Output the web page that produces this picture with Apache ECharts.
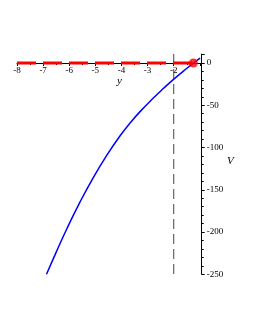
<!DOCTYPE html>
<html>
<head>
<meta charset="utf-8">
<script src="https://cdn.jsdelivr.net/npm/echarts@6/dist/echarts.min.js"></script>
<style>html,body{margin:0;padding:0;background:#fff}#c{width:256px;height:332px}</style>
</head>
<body>
<div id="c"></div>
<script>
// Blue curve V(y)
const curveY = [-6.87, -6.49, -6.10, -5.59, -5.08, -4.57, -4.06, -3.68, -3.29, -2.78, -2.40, -2.02, -1.63, -1.25, -0.99];
const curveV = [-250, -223.2, -196.7, -164.6, -135.5, -109.5, -86.3, -71.3, -57.5, -41.4, -30.2, -19.6, -9.5, 0, 5.9];
// Red dashed equilibrium line and point
const redLineY = [-8, -1.25];
const redLineV = [0, 0];
const redPoint = [-1.25, 0];
// Vertical dashed asymptote
const asymY = [-2, -2];
const asymV = [10.7, -250];
// Axis settings
const xMin = -8, xMax = -0.93;
const yMin = -250, yMax = 10.7;
const xTicks = [-8, -7, -6, -5, -4, -3, -2];
const yTicks = [0, -50, -100, -150, -200, -250];

const gridTop = 54, gridH = 220.3;
const xAxisOffset = -((0 - yMin) / (yMax - yMin)) * gridH;

const chart = echarts.init(document.getElementById('c'));
const font = 'Liberation Serif';
chart.setOption({
  animation: false,
  backgroundColor: '#fff',
  grid: { left: 17, right: 54.3, top: gridTop, height: gridH },
  xAxis: {
    type: 'value', min: xMin, max: xMax, interval: 1, position: 'bottom', offset: xAxisOffset,
    axisLine: { onZero: false, lineStyle: { color: '#000', width: 1 } },
    axisTick: { show: true, length: 3, lineStyle: { color: '#000' } },
    minorTick: { show: true, splitNumber: 2, length: 2, lineStyle: { color: '#000' } },
    axisLabel: {
      color: '#000', fontFamily: font, fontSize: 9, margin: 3,
      formatter: v => xTicks.includes(v) ? String(v) : ''
    },
    splitLine: { show: false }
  },
  yAxis: {
    type: 'value', min: yMin, max: yMax, interval: 50, position: 'right',
    axisLine: { show: true, onZero: false, lineStyle: { color: '#000', width: 1 } },
    axisTick: { show: true, length: 3, lineStyle: { color: '#000' } },
    minorTick: { show: true, splitNumber: 5, length: 2, lineStyle: { color: '#000' } },
    axisLabel: {
      color: '#000', fontFamily: font, fontSize: 9, margin: 5,
      formatter: v => yTicks.includes(v) ? String(v) : ''
    },
    splitLine: { show: false }
  },
  graphic: [
    { type: 'text', left: 117, top: 76, style: { text: 'y', font: 'italic 11px ' + font, fill: '#000' } },
    { type: 'text', left: 227, top: 156, style: { text: 'V', font: 'italic 11px ' + font, fill: '#000' } }
  ],
  series: [
    {
      type: 'line', data: asymY.map((y, i) => [y, asymV[i]]), symbol: 'none',
      lineStyle: { color: '#444', width: 1, type: [10, 5] }, z: 1
    },
    {
      type: 'line', data: redLineY.map((y, i) => [y, redLineV[i]]), symbol: 'none',
      lineStyle: { color: '#ff0000', width: 3, type: [19, 7] }, z: 3
    },
    {
      type: 'line', data: curveY.map((y, i) => [y, curveV[i]]), symbol: 'none', smooth: true,
      lineStyle: { color: '#0000ff', width: 1.5 }, z: 2
    },
    {
      type: 'scatter', data: [redPoint], symbolSize: 9,
      itemStyle: { color: '#ff0000' }, z: 4
    }
  ]
});
</script>
</body>
</html>
